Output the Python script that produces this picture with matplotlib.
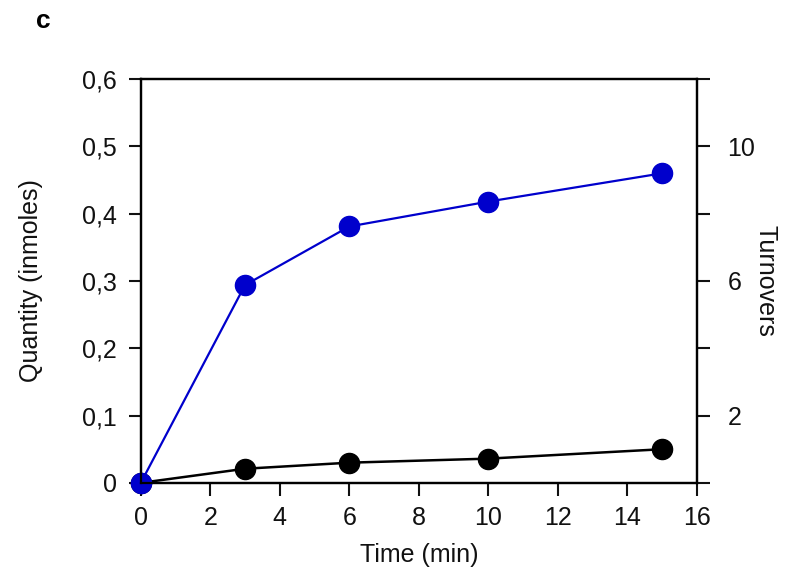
import matplotlib
matplotlib.use("Agg")
import matplotlib.pyplot as plt
from matplotlib.ticker import FuncFormatter

plt.rcParams['font.family'] = ['Liberation Sans', 'DejaVu Sans']

# data
time_min = [0, 3, 6, 10, 15]
quantity_blue = [0.0, 0.294, 0.381, 0.418, 0.460]
quantity_black = [0.0, 0.021, 0.030, 0.036, 0.050]

x_ticks = [0, 2, 4, 6, 8, 10, 12, 14, 16]
y_ticks = [0, 0.1, 0.2, 0.3, 0.4, 0.5, 0.6]
turn_ticks = [0, 2, 4, 6, 8, 10, 12]
turn_labels = ["", "2", "", "6", "", "10", ""]

fig = plt.figure(figsize=(8, 5.86), dpi=100)
ax = fig.add_axes([0.176, 0.176, 0.695, 0.689])

ax.plot(time_min, quantity_black, color="black", lw=1.8, marker="o", ms=14.5,
        zorder=3, clip_on=False)
ax.plot(time_min, quantity_blue, color="#0000cc", lw=1.6, marker="o", ms=14.5,
        zorder=4, clip_on=False)

ax.set_xlim(0, 16)
ax.set_ylim(0, 0.6)
ax.set_xticks(x_ticks)
ax.set_yticks(y_ticks)
ax.yaxis.set_major_formatter(FuncFormatter(
    lambda v, p: "0" if abs(v) < 1e-9 else f"{v:.1f}".replace(".", ",")))

for s in ax.spines.values():
    s.set_linewidth(1.6)
ax.tick_params(direction="out", length=9, width=1.5, labelsize=18, pad=8,
               colors="#111")
ax.set_xlabel("Time (min)", fontsize=18, labelpad=9, color="#111")
ax.set_ylabel("Quantity (inmoles)", fontsize=18, labelpad=28, color="#111")

ax2 = ax.twinx()
ax2.set_ylim(0, 12)
ax2.set_yticks(turn_ticks)
ax2.set_yticklabels(turn_labels)
ax2.tick_params(direction="out", length=9, width=1.5, labelsize=18, pad=13,
                colors="#111")
for s in ax2.spines.values():
    s.set_linewidth(1.6)
ax2.set_ylabel("Turnovers", fontsize=18, rotation=-90, labelpad=16, color="#111")

fig.text(0.045, 0.965, "c", fontsize=19, fontweight="bold", ha="left", va="center")

fig.savefig("out.png", dpi=100)
